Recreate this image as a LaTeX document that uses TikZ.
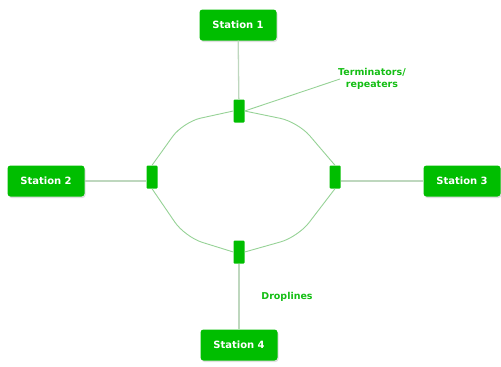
\documentclass[tikz,border=0pt]{standalone}
\usepackage{fontspec}
\setmainfont{DejaVu Sans}
\usepackage{tikz}
\usetikzlibrary{shadows}

\definecolor{boxgreen}{RGB}{0,190,0}
\definecolor{textgreen}{RGB}{20,190,20}
\definecolor{dropgray}{RGB}{190,215,190}
\definecolor{ringgreen}{RGB}{150,210,150}

\begin{document}
\begin{tikzpicture}[
        x=1pt, y=-1pt,
        station/.style={rectangle, rounded corners=3pt, fill=boxgreen, text=white,
            font=\bfseries\fontsize{10}{12}\selectfont, minimum width=77pt,
            minimum height=31pt, drop shadow={opacity=0.25, shadow xshift=1pt, shadow yshift=-1.5pt}},
        term/.style={rectangle, rounded corners=1pt, fill=boxgreen, minimum width=11pt,
            minimum height=23pt, inner sep=0pt},
        drop/.style={dropgray, line width=1.3pt},
        ring/.style={ringgreen, line width=0.9pt, rounded corners=18pt},
        lbl/.style={text=textgreen, font=\bfseries\fontsize{9.5}{12}\selectfont, align=center}
    ]
        \useasboundingbox (0,0) rectangle (501,367);

        % Stations
        \node[station] (s1) at (238,25) {Station 1};
        \node[station] (s2) at (46,181) {Station 2};
        \node[station] (s3) at (462,181) {Station 3};
        \node[station] (s4) at (239,345) {Station 4};

        % Terminators on the ring
        \node[term] (t1) at (239,111) {};
        \node[term] (t2) at (152,177) {};
        \node[term] (t3) at (335,177) {};
        \node[term] (t4) at (239,252) {};

        % Ring
        \draw[ring] (t1.west) -- (183,122) -- (t2.north);
        \draw[ring] (t2.south) -- (185,237) -- (t4.west);
        \draw[ring] (t1.east) -- (298,122) -- (t3.north);
        \draw[ring] (t3.south) -- (298,237) -- (t4.east);

        % Droplines
        \draw[drop] (t1) -- (s1);
        \draw[drop] (s2) -- (s2 -| t2.west);
        \draw[drop] (s3) -- (s3 -| t3.east);
        \draw[drop] (t4) -- (s4);

        % Labels
        \node[lbl] (tr) at (372,79) {Terminators/\\repeaters};
        \coordinate (trend) at (340,79);
        \draw[ringgreen, line width=0.9pt] (t1.east) -- (trend);
        \node[lbl] (dl) at (287,297) {Droplines};
\end{tikzpicture}
\end{document}
